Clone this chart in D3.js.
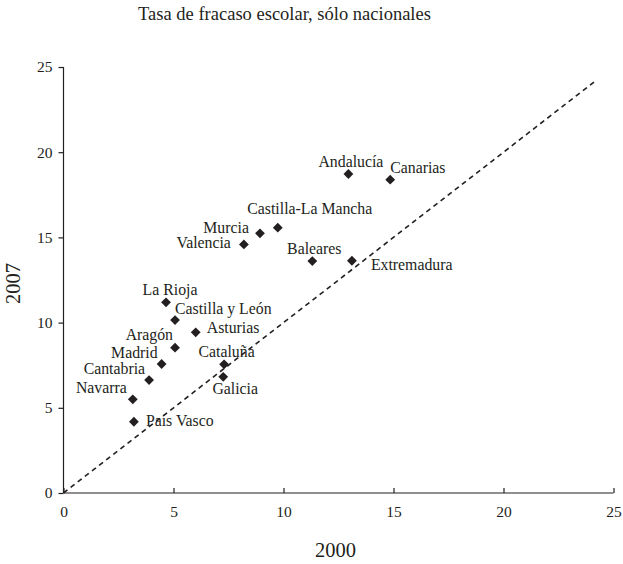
<!DOCTYPE html>
<html><head><meta charset="utf-8">
<script src="https://cdn.jsdelivr.net/npm/d3@7"></script>
<style>
body{margin:0;background:#fff;}
svg text{font-family:"Liberation Serif","Times New Roman",serif !important;fill:#231f20;}
</style></head>
<body><svg id="c" width="623" height="564"></svg>
<script>
const title = "Tasa de fracaso escolar, sólo nacionales";
const xTitle = "2000";
const yTitle = "2007";
const regions = ["Andalucía","Canarias","Castilla-La Mancha","Murcia","Valencia","Baleares","Extremadura","La Rioja","Castilla y León","Asturias","Aragón","Madrid","Cantabria","Navarra","País Vasco","Cataluña","Galicia"];
const rate2000 = [12.95,14.85,9.74,8.93,8.2,11.31,13.11,4.66,5.07,6.01,5.07,4.46,3.89,3.15,3.2,7.3,7.26];
const rate2007 = [18.72,18.39,15.57,15.24,14.59,13.61,13.63,11.19,10.15,9.43,8.53,7.57,6.63,5.5,4.18,7.55,6.82];
const xTicks = [0,5,10,15,20,25];
const yTicks = [0,5,10,15,20,25];
const diagEnd = 24.2;

// label placement (styling): [dx, dy, anchor]
const labelPos = {
 "Andalucía":[2.5,-7,"middle"], "Canarias":[0,-7,"start"], "Castilla-La Mancha":[32,-13.5,"middle"],
 "Murcia":[-11,-0.5,"end"], "Valencia":[-13,4,"end"], "Baleares":[2,-7.5,"middle"],
 "Extremadura":[19,9.5,"start"], "La Rioja":[4,-7,"middle"], "Castilla y León":[0,-6.5,"start"],
 "Asturias":[11,1,"start"], "Aragón":[-2,-7.5,"end"], "Madrid":[-4,-6.5,"end"],
 "Cantabria":[-4,-6.5,"end"], "Navarra":[-6,-6,"end"], "País Vasco":[12,4,"start"],
 "Cataluña":[2.5,-7.5,"middle"], "Galicia":[12,17.5,"middle"]
};

const data = regions.map((r,i)=>({name:r,x:rate2000[i],y:rate2007[i]}));
const svg = d3.select("#c");
const x = d3.scaleLinear().domain([0,25]).range([63.5,613.5]);
const y = d3.scaleLinear().domain([0,25]).range([493,67]);
const col = "#231f20";
const serif = '"Liberation Serif","Times New Roman",serif';

// y axis
const ya = svg.append("g").attr("transform",`translate(${x(0)},0)`)
  .call(d3.axisLeft(y).tickValues(yTicks).tickSize(5).tickPadding(6));
// x axis (ticks pointing up)
const xa = svg.append("g").attr("transform",`translate(0,${y(0)})`)
  .call(d3.axisBottom(x).tickValues(xTicks).tickSize(-5).tickPadding(0));
xa.selectAll("text").attr("dy","1.55em");
[ya,xa].forEach(a=>{
  a.attr("font-family",serif).attr("font-size",15.5);
  a.selectAll("text").attr("fill",col);
  a.selectAll("path,line").attr("stroke",col).attr("stroke-width",1.2);
  a.select(".domain").attr("d",null);
});
ya.append("line").attr("x1",0).attr("x2",0).attr("y1",y(0)).attr("y2",y(25)).attr("stroke",col).attr("stroke-width",1.2);
xa.append("line").attr("x1",x(0)).attr("x2",x(25)).attr("y1",0).attr("y2",0).attr("stroke",col).attr("stroke-width",1.2);

// diagonal
svg.append("line").attr("x1",x(0)).attr("y1",y(0)).attr("x2",x(diagEnd)).attr("y2",y(diagEnd))
  .attr("stroke",col).attr("stroke-width",1.6).attr("stroke-dasharray","5,4");

// points
const sym = d3.symbol().type(d3.symbolSquare).size(48);
svg.append("g").selectAll("path").data(data).join("path")
  .attr("d",sym).attr("fill",col)
  .attr("transform",d=>`translate(${x(d.x)},${y(d.y)}) rotate(45)`);

// labels
svg.append("g").attr("font-family",serif).selectAll("text").data(data).join("text")
  .attr("x",d=>x(d.x)+labelPos[d.name][0]).attr("y",d=>y(d.y)+labelPos[d.name][1])
  .attr("text-anchor",d=>labelPos[d.name][2]).style("font-size","15.8px").text(d=>d.name);

// titles
svg.append("text").attr("x",284.5).attr("y",20).attr("text-anchor","middle").style("font-size","18.5px").text(title);
svg.append("text").attr("x",335.5).attr("y",557).attr("text-anchor","middle").style("font-size","20.5px").text(xTitle);
svg.append("text").attr("transform","translate(20,283.5) rotate(-90)").attr("text-anchor","middle").style("font-size","20.5px").text(yTitle);
</script></body></html>
